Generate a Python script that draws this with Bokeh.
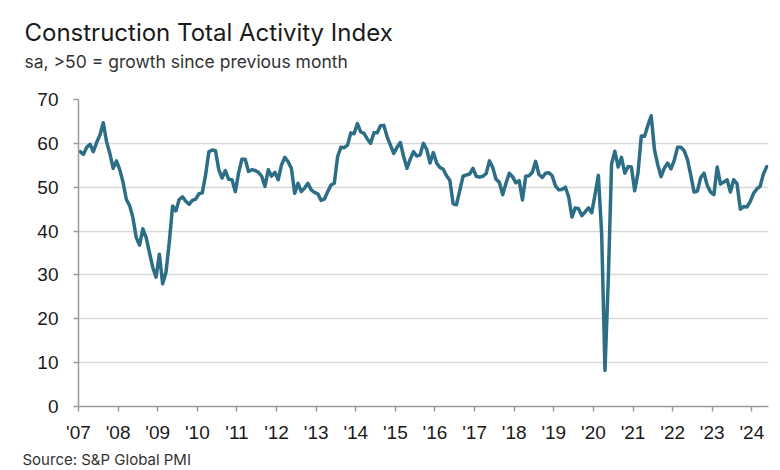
import numpy as np
from bokeh.plotting import figure
from bokeh.models import Range1d, FixedTicker, Title, ColumnDataSource
from bokeh.embed import file_html
from bokeh.resources import INLINE

# Monthly index values, Jan 2007 - May 2024
y2007 = [58.1, 57.5, 59.1, 59.8, 58.1, 60.2, 61.9, 64.7, 60.4, 57.7, 54.3, 56.0]
y2008 = [54.0, 51.1, 47.2, 45.8, 43.0, 38.5, 36.8, 40.5, 38.5, 35.1, 31.7, 29.5]
y2009 = [34.7, 28.0, 30.6, 37.4, 45.7, 44.6, 47.2, 47.8, 46.8, 46.1, 47.0, 47.3]
y2010 = [48.5, 48.7, 52.8, 58.1, 58.5, 58.3, 54.0, 52.1, 53.8, 51.8, 51.7, 49.0]
y2011 = [53.2, 56.4, 56.4, 53.6, 54.0, 53.8, 53.4, 52.5, 50.2, 54.0, 52.5, 53.4]
y2012 = [51.7, 55.1, 56.8, 55.8, 54.3, 48.6, 50.9, 49.0, 49.8, 50.9, 49.4, 48.8]
y2013 = [48.5, 47.0, 47.3, 49.0, 50.5, 50.9, 57.0, 59.1, 59.0, 59.6, 62.4, 62.2]
y2014 = [64.5, 62.6, 62.3, 61.0, 60.0, 62.4, 62.4, 64.0, 64.1, 61.5, 59.6, 57.7]
y2015 = [59.1, 60.2, 57.0, 54.3, 56.4, 58.1, 57.1, 57.4, 60.0, 58.6, 55.5, 57.9]
y2016 = [55.5, 54.5, 54.1, 52.6, 51.6, 46.2, 46.0, 49.2, 52.5, 52.8, 53.0, 54.3]
y2017 = [52.5, 52.3, 52.5, 53.1, 56.0, 54.5, 51.8, 51.1, 48.3, 50.9, 53.2, 52.4]
y2018 = [51.0, 51.5, 47.1, 52.5, 52.6, 53.4, 55.9, 52.9, 52.2, 53.2, 53.3, 52.6]
y2019 = [50.3, 49.4, 49.5, 50.0, 47.8, 43.2, 45.3, 45.1, 43.5, 44.4, 45.3, 44.2]
y2020 = [48.4, 52.7, 39.3, 8.2, 28.9, 55.3, 58.2, 54.6, 56.8, 53.2, 54.7, 54.6]
y2021 = [49.2, 53.2, 61.7, 61.6, 64.1, 66.3, 58.5, 55.1, 52.4, 54.4, 55.5, 54.2]
y2022 = [56.2, 59.1, 59.1, 58.3, 56.3, 52.7, 48.9, 49.1, 52.2, 53.2, 50.4, 48.9]
y2023 = [48.3, 54.6, 50.7, 51.2, 51.7, 48.9, 51.7, 50.8, 45.0, 45.6, 45.5, 46.7]
y2024 = [48.6, 49.6, 50.2, 53.0, 54.7]

years = list(range(2007, 2025))
tick_labels = ["'07", "'08", "'09", "'10", "'11", "'12", "'13", "'14", "'15",
               "'16", "'17", "'18", "'19", "'20", "'21", "'22", "'23", "'24"]
y_ticks = [0, 10, 20, 30, 40, 50, 60, 70]

series = [y2007, y2008, y2009, y2010, y2011, y2012, y2013, y2014, y2015,
          y2016, y2017, y2018, y2019, y2020, y2021, y2022, y2023, y2024]
xs, ys = [], []
for yr, vals in zip(years, series):
    for i, v in enumerate(vals):
        xs.append(yr + (i + 0.5) / 12.0)
        ys.append(v)
src = ColumnDataSource(dict(x=xs, y=ys))

LINE = "#2d6e87"
AXIS = "#9a9a9a"
GRID = "#d9d9d9"
TICKFONT = "Liberation Sans"
TITLEFONT = "Inter"

p = figure(width=780, height=470, output_backend="svg", toolbar_location=None,
           x_range=Range1d(2007, 2024.42), y_range=Range1d(0, 70),
           min_border_left=78, min_border_right=12, min_border_top=99,
           min_border_bottom=62)
p.title.visible = False
p.outline_line_color = None
p.background_fill_color = "white"
p.border_fill_color = "white"

p.line("x", "y", source=src, line_color=LINE, line_width=3.5,
       line_join="round", line_cap="round")

p.xaxis.ticker = FixedTicker(ticks=years)
p.xaxis.major_label_overrides = {yr: lab for yr, lab in zip(years, tick_labels)}
p.yaxis.ticker = FixedTicker(ticks=y_ticks)
for ax in (p.xaxis, p.yaxis):
    ax.axis_line_color = AXIS
    ax.axis_line_width = 1.5
    ax.major_tick_line_color = AXIS
    ax.major_tick_line_width = 1.5
    ax.major_tick_out = 5
    ax.major_tick_in = 0
    ax.minor_tick_line_color = None
    ax.major_label_text_font = TICKFONT
    ax.major_label_text_font_size = "19px"
    ax.major_label_text_color = "#1a1a1a"
p.xaxis.major_label_standoff = 10
p.yaxis.major_label_standoff = 15

p.xgrid.grid_line_color = None
p.ygrid.ticker = FixedTicker(ticks=y_ticks)
p.ygrid.grid_line_color = GRID
p.ygrid.grid_line_width = 1.5

# spacer between the frame and the subtitle
p.add_layout(Title(text=" ", standoff=24, text_font_size="1px",
                   text_color="white"), "above")
p.add_layout(Title(text="sa, >50 = growth since previous month", align="left",
                   offset=-54, standoff=2, text_font=TITLEFONT,
                   text_font_size="17.5px", text_font_style="normal",
                   text_color="#333333"), "above")
p.add_layout(Title(text="Construction Total Activity Index", align="left",
                   offset=-54, standoff=1, text_font=TITLEFONT,
                   text_font_size="24px", text_font_style="normal",
                   text_color="#1a1a1a"), "above")
p.add_layout(Title(text="Source: S&P Global PMI", align="left",
                   offset=-56, standoff=4, text_font=TITLEFONT,
                   text_font_size="15px", text_font_style="normal",
                   text_color="#333333"), "below")

open("out.html", "w").write(file_html(p, INLINE))
